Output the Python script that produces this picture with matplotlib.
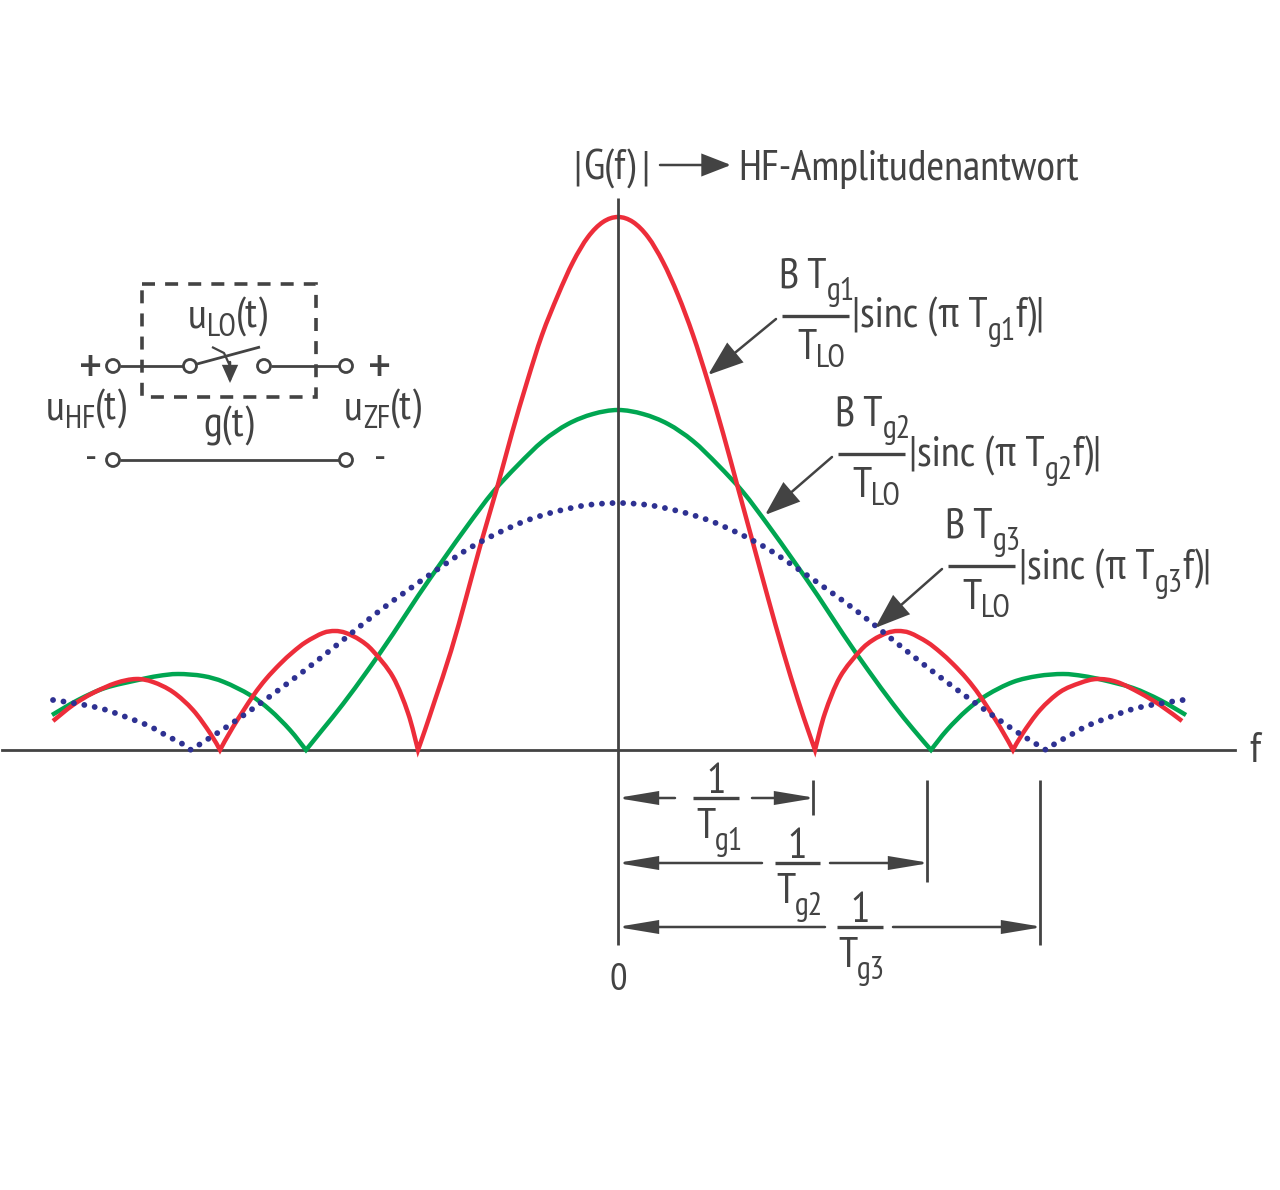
import matplotlib
matplotlib.use('Agg')
import matplotlib.pyplot as plt
from matplotlib.patches import Circle, Rectangle, FancyArrowPatch, PathPatch
from matplotlib.path import Path

# Curves: f and amplitude, both in picture pixels from the origin
red_f = [-565, -545, -525, -502, -482, -465, -445, -425, -408, -398,
	-385, -365, -352, -338, -325, -312, -295, -283, -272, -258, -245, -225, -210, -200,
	-193, -183, -167, -152, -137, -121, -106, -91, -76, -60, -45, -30, -15, 0,
	15, 30, 45, 60, 75, 90, 105, 120, 135, 150, 165, 180, 190, 197,
	207, 222, 242, 255, 269, 280, 292, 309, 322, 335, 349, 362, 382, 395,
	405, 422, 442, 462, 479, 499, 522, 542, 564]
red_amp = [29, 45, 57, 67, 71, 68, 58, 40, 17, 0,
	23, 54, 71, 86, 98, 108, 117, 119, 117, 110, 99, 73, 37, 0,
	20, 50, 99, 152, 207, 262, 317, 368, 415, 455, 488, 513, 528, 533,
	528, 513, 488, 455, 415, 368, 317, 262, 207, 152, 99, 50, 20, 0,
	37, 73, 99, 110, 117, 119, 117, 108, 98, 86, 71, 54, 23, 0,
	17, 40, 58, 67, 71, 68, 57, 45, 29]

green_f = [-566, -540, -513, -480, -460, -440, -415, -394, -368, -348, -328, -312,
	-295, -275, -250, -225, -200, -175, -150, -125, -100, -75, -50, -25, 0,
	25, 50, 75, 100, 125, 150, 175, 200, 225, 250, 275, 295, 313,
	329, 349, 369, 395, 420, 445, 465, 485, 515, 542, 568]
green_amp = [35, 50, 62, 70, 74, 76, 74, 68, 55, 40, 20, 0,
	21, 46, 80, 116, 154, 190, 225, 258, 285, 309, 326, 336, 340,
	336, 326, 309, 285, 258, 225, 190, 154, 116, 80, 46, 21, 0,
	20, 40, 55, 68, 74, 76, 74, 70, 62, 50, 35]

blue_f = [-565, -539, -515, -492, -469, -449, -437, -427,
	-410, -390, -360, -330, -300, -270, -240, -210, -180, -150, -120, -90, -60, -30, 0,
	30, 60, 90, 120, 150, 180, 210, 240, 270, 300, 330, 360, 390, 410, 428,
	438, 449, 469, 492, 515, 539, 565]
blue_amp = [50, 46, 41, 33, 24, 13, 7, 0,
	11, 24, 45, 67, 90, 114, 138, 160, 181, 201, 217, 230, 239, 245, 247,
	245, 239, 230, 217, 201, 181, 160, 138, 114, 90, 67, 45, 24, 11, 0,
	7, 13, 24, 33, 41, 46, 50]

title_text = 'HF-Amplitudenantwort'
ink = '#434343'
fonts = ['PT Sans Narrow', 'Archivo Narrow', 'Roboto Condensed', 'Liberation Sans', 'DejaVu Sans']
big = 31
small = 23


def smooth_path(xs, ys):
	# Bezier through the read points, with a hard corner wherever the curve touches zero
	verts = [(xs[0], ys[0])]
	codes = [Path.MOVETO]
	n = len(xs)
	for i in range(n - 1):
		x0, y0 = (xs[i - 1], ys[i - 1]) if i > 0 and ys[i] != 0 else (xs[i], ys[i])
		x3, y3 = (xs[i + 2], ys[i + 2]) if i < n - 2 and ys[i + 1] != 0 else (xs[i + 1], ys[i + 1])
		c1 = (xs[i] + (xs[i + 1] - x0) / 6, ys[i] + (ys[i + 1] - y0) / 6)
		c2 = (xs[i + 1] - (x3 - xs[i]) / 6, ys[i + 1] - (y3 - ys[i]) / 6)
		verts += [c1, c2, (xs[i + 1], ys[i + 1])]
		codes += [Path.CURVE4] * 3
	return Path(verts, codes)


fig = plt.figure(figsize=(12.8, 11.9), dpi=100, facecolor='white')

# Curves live in f / amplitude units
ax = fig.add_axes([0, 0, 1, 1])
ax.set_xlim(-618, 662)
ax.set_ylim(-440, 750)
ax.axis('off')
ax.plot([-616, 617], [0, 0], color=ink, lw=2, zorder=1)
ax.add_patch(PathPatch(smooth_path(green_f, green_amp), fill=False, ec='#00a651', lw=3.2, zorder=2))
ax.add_patch(PathPatch(smooth_path(red_f, red_amp), fill=False, ec='#ed2d3a', lw=3.2, zorder=3))
ax.add_patch(PathPatch(smooth_path(blue_f, blue_amp), fill=False, ec='#2e3192', lw=4.2, zorder=4,
	linestyle=(0, (0.01, 1.8)), capstyle='round'))

# Everything else is schematic, so it goes on an overlay in picture pixels
ov = fig.add_axes([0, 0, 1, 1])
ov.set_xlim(0, 1280)
ov.set_ylim(1190, 0)
ov.axis('off')
ov.patch.set_alpha(0)
renderer = fig.canvas.get_renderer()


def run(x, y, parts):
	# parts: (string, size, baseline shift), set one after the other
	for s, size, dy in parts:
		t = ov.text(x, y + dy, s, fontsize=size, family=fonts, color=ink, va='baseline', ha='left')
		x += t.get_window_extent(renderer).width
	return x


def mid(x, y, s, size=big):
	ov.text(x, y, s, fontsize=size, family=fonts, color=ink, va='baseline', ha='center')


def line(xs, ys, lw=2):
	ov.plot(xs, ys, color=ink, lw=lw, solid_capstyle='butt')


def arrow(x0, y0, x1, y1, length, width):
	style = '-|>,head_length=%g,head_width=%g' % (length, width)
	ov.add_patch(FancyArrowPatch((x0, y0), (x1, y1), arrowstyle=style, mutation_scale=1, shrinkA=0, shrinkB=0,
		color=ink, lw=1.8, joinstyle='miter'))


def sinc_label(x, y, tg, x_frac, y_frac, x_bt, x_tlo, tip):
	# fraction BT/TLO, then |sinc(...)|, then the leader arrow
	run(x_bt, y_frac - 28, [('B T', big, 0), (tg, small, 12)])
	line([x_frac, x_frac + 67], [y_frac, y_frac], 2.4)
	run(x_tlo, y_frac + 43, [('T', big, 0), ('LO', small, 8)])
	run(x, y, [('|sinc (π T', big, 0), (tg, small, 12), ('f)|', big, 0)])
	arrow(x_frac - 6, y_frac + 3, tip[0], tip[1], 22, 8)


# Axes
line([618, 618], [198, 945])
mid(618, 990, '0', 28)
mid(1255, 762, 'f', 31)

# Title row
mid(577, 180, '|')
run(583, 180, [('G(f)', big, 0)])
mid(645, 180, '|')
arrow(660, 165, 731, 165, 18, 7)
run(738, 180, [(title_text, big, 0)])

# Formula labels
sinc_label(852, 328, 'g1', 782, 316, 779, 797, (708, 375))
sinc_label(909, 467, 'g2', 838, 454, 835, 852, (765, 515))
sinc_label(1019, 580, 'g3', 948, 566, 945, 962, (875, 628))

# Circuit
ov.add_patch(Rectangle((142, 284), 174, 113, fill=False, ec=ink, lw=2.6, ls=(0, (3.6, 2.8)), zorder=3))
line([120, 183], [366, 366])
line([271, 339], [366, 366])
line([120, 339], [460, 460])
line([197, 260], [364, 347])
line([212, 224, 230], [347, 353, 366], 1.6)
arrow(230, 362, 230, 383, 10, 4.5)
for cx, cy in [(113, 366), (190, 366), (264, 366), (346, 366), (113, 460), (346, 460)]:
	ov.add_patch(Circle((cx, cy), 6.5, fc='white', ec=ink, lw=2, zorder=4))
mid(91, 385, '+', 40)
mid(380, 385, '+', 40)
mid(91, 470, '-', 30)
mid(380, 470, '-', 30)
run(188, 328, [('u', big, 0), ('LO', small, 8), ('(t)', big, 0)])
run(46, 420, [('u', big, 0), ('HF', small, 8), ('(t)', big, 0)])
run(344, 420, [('u', big, 0), ('ZF', small, 8), ('(t)', big, 0)])
run(203, 437, [('g(t)', big, 0)])

# Spacing marks under the axis
line([813, 813], [780, 815])
line([927, 927], [780, 882])
line([1040, 1040], [780, 945])

arrow(675, 798, 617, 798, 24, 4)
arrow(752, 798, 816, 798, 24, 4)
line([693, 739], [798, 798], 2.4)
mid(716, 793, '1')
run(696, 838, [('T', big, 0), ('g1', small, 12)])

arrow(762, 863, 617, 863, 24, 4)
arrow(830, 863, 930, 863, 24, 4)
line([775, 820], [863, 863], 2.4)
mid(797, 858, '1')
run(776, 903, [('T', big, 0), ('g2', small, 12)])

arrow(825, 927, 617, 927, 24, 4)
arrow(893, 927, 1043, 927, 24, 4)
line([837, 883], [927, 927], 2.4)
mid(860, 922, '1')
run(838, 967, [('T', big, 0), ('g3', small, 12)])

fig.savefig('out.png', dpi=100, facecolor='white')
